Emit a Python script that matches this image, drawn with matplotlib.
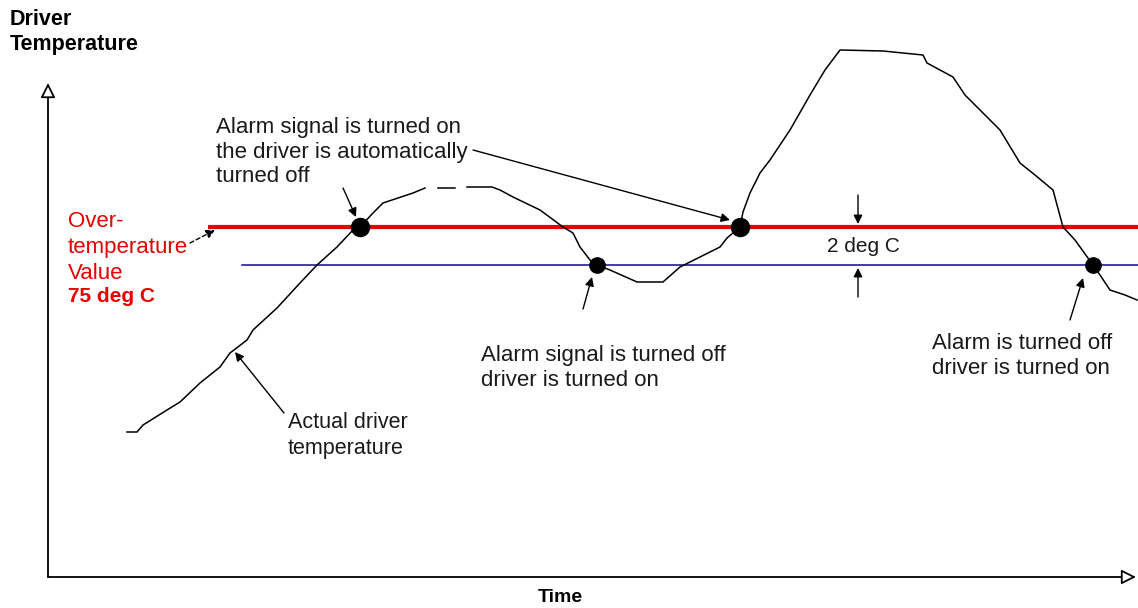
import matplotlib
matplotlib.use('Agg')
import matplotlib.pyplot as plt
import numpy as np

plt.rcParams.update({
    'font.family': ['Liberation Sans', 'DejaVu Sans'],
})

# --- data: time (px from axis origin) and temperature (px above axis) ---
time = [79, 89, 95, 119, 132, 152, 172, 182, 199, 205, 229, 252, 269, 289, 305,
        312, 325, 335, 365, 377, np.nan, 390, 407, np.nan, 419, 444, 452, 465,
        492, 515, 525, 532, 542, 549, 562, 589, 615, 632, 652, 672, 679, 692,
        695, 702, 712, 722, 742, 762, 777, 792, 835, 875, 879, 905, 917, 932,
        952, 972, 987, 1005, 1015, 1027, 1045, 1052, 1062, 1077, 1089]
temp = [145, 145, 152, 167, 175, 194, 210, 224, 237, 247, 269, 294, 312, 330, 347,
        350, 364, 374, 384, 389, np.nan, 389, 389, np.nan, 390, 390, 387, 380,
        367, 350, 344, 330, 317, 312, 307, 295, 295, 310, 320, 330, 339, 350,
        365, 384, 404, 417, 447, 482, 507, 527, 526, 522, 514, 500, 482, 467,
        447, 414, 402, 387, 350, 337, 312, 302, 287, 282, 277]

over_temp = 350      # 75 deg C
reset_temp = 312     # 75 - 2 deg C
alarm_on_t = [312, 692]
alarm_off_t = [549, 1045]

RED = '#e60000'
BLUE = '#0c0c8c'
TXT = '#1a1a1a'
FS = 16

fig = plt.figure(figsize=(11.38, 6.08), dpi=100)
ax = fig.add_axes([0, 0, 1, 1])
ax.set_xlim(-48, 1090)
ax.set_ylim(-31, 577)
ax.axis('off')

# axes with open arrowheads
ax.annotate('', xy=(0, 494), xytext=(0, 0),
            arrowprops=dict(arrowstyle='-|>', fc='white', ec='black', lw=1.3,
                            mutation_scale=22, shrinkA=0, shrinkB=0))
ax.annotate('', xy=(1088, 0), xytext=(0, 0),
            arrowprops=dict(arrowstyle='-|>', fc='white', ec='black', lw=1.3,
                            mutation_scale=22, shrinkA=0, shrinkB=0))

# threshold lines
ax.plot([160, 1090], [over_temp, over_temp], color=RED, lw=3, solid_capstyle='butt')
ax.plot([194, 1090], [reset_temp, reset_temp], color=BLUE, lw=1.1)

# temperature curve
ax.plot(time, temp, color='black', lw=1.1)

# switch points
ax.plot(alarm_on_t, [over_temp] * 2, 'o', color='black', ms=13)
ax.plot(alarm_off_t, [reset_temp] * 2, 'o', color='black', ms=11)

arr = dict(arrowstyle='-|>', color='black', lw=1, mutation_scale=13,
           shrinkA=0, shrinkB=0)

# axis titles
ax.text(-38, 568, 'Driver\nTemperature', fontsize=15.5, fontweight='bold',
        va='top', ha='left', linespacing=1.25)
ax.text(512, -21, 'Time', fontsize=14, fontweight='bold', ha='center', va='center')

# over-temperature label
ax.text(20, 366, 'Over-\ntemperature\nValue', fontsize=FS, color=RED,
        va='top', ha='left', linespacing=1.3)
ax.text(20, 281, '75 deg C', fontsize=FS - 1, color=RED, fontweight='bold',
        va='center', ha='left')
ax.annotate('', xy=(167, 347), xytext=(142, 334),
            arrowprops=dict(arr, linestyle=(0, (3, 2))))

# alarm on annotation
ax.text(168, 460, 'Alarm signal is turned on\nthe driver is automatically\nturned off',
        fontsize=FS, color=TXT, va='top', ha='left', linespacing=1.22)
ax.annotate('', xy=(308, 360), xytext=(295, 389), arrowprops=arr)
ax.annotate('', xy=(682, 357), xytext=(425, 427), arrowprops=arr)

# alarm off annotation
ax.text(433, 232, 'Alarm signal is turned off\ndriver is turned on',
        fontsize=FS, color=TXT, va='top', ha='left', linespacing=1.22)
ax.annotate('', xy=(544, 300), xytext=(535, 268), arrowprops=arr)

# hysteresis
ax.text(779, 331, '2 deg C', fontsize=15, color=TXT, va='center', ha='left')
ax.annotate('', xy=(810, over_temp + 3), xytext=(810, 382), arrowprops=arr)
ax.annotate('', xy=(810, reset_temp - 3), xytext=(810, 280), arrowprops=arr)

ax.text(884, 244, 'Alarm is turned off\ndriver is turned on',
        fontsize=FS, color=TXT, va='top', ha='left', linespacing=1.22)
ax.annotate('', xy=(1035, 299), xytext=(1022, 257), arrowprops=arr)

# actual temperature
ax.text(240, 165, 'Actual driver\ntemperature', fontsize=15.5, color=TXT,
        va='top', ha='left', linespacing=1.3)
ax.annotate('', xy=(187, 225), xytext=(236, 164), arrowprops=arr)

fig.savefig('out.png', dpi=100)
